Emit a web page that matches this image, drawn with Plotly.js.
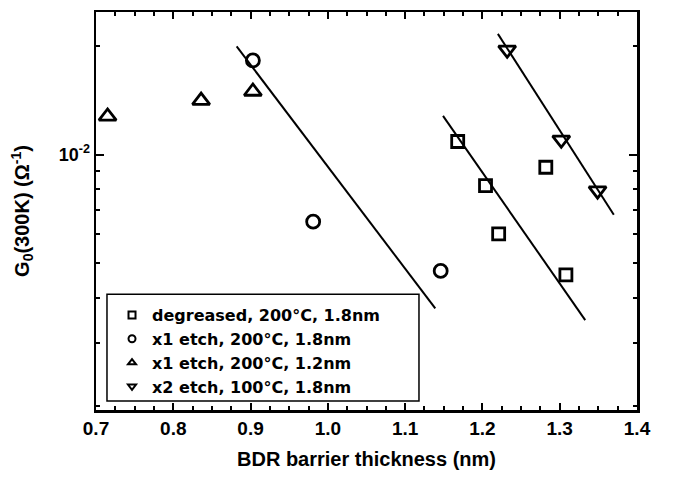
<!DOCTYPE html>
<html>
<head>
<meta charset="utf-8">
<script src="https://cdn.plot.ly/plotly-3.0.1.min.js"></script>
<style>
html,body{margin:0;padding:0;background:#fff;}
#chart{width:673px;height:477px;}
</style>
</head>
<body>
<div id="chart"></div>
<script>
// Series names
const seriesNames = [
  'degreased, 200°C, 1.8nm',
  'x1 etch, 200°C, 1.8nm',
  'x1 etch, 200°C, 1.2nm',
  'x2 etch, 100°C, 1.8nm'
];
// degreased, 200°C, 1.8nm (squares)
const degreasedX = [1.168, 1.204, 1.221, 1.282, 1.308];
const degreasedY = [0.01087, 0.00820, 0.00602, 0.00922, 0.00463];
// x1 etch, 200°C, 1.8nm (circles)
const etch1X = [0.903, 0.981, 1.146];
const etch1Y = [0.01827, 0.00651, 0.00475];
// x1 etch, 200°C, 1.2nm (triangles up)
const etch1thinX = [0.715, 0.836, 0.903];
const etch1thinY = [0.01276, 0.01413, 0.01497];
// x2 etch, 100°C, 1.8nm (triangles down)
const etch2X = [1.232, 1.302, 1.349];
const etch2Y = [0.01955, 0.01099, 0.00794];
// fitted lines (end points)
const fit1X = [0.882, 1.139];
const fit1Y = [0.01998, 0.003736];
const fit2X = [1.149, 1.333];
const fit2Y = [0.01281, 0.003467];
const fit3X = [1.220, 1.370];
const fit3Y = [0.02165, 0.00680];
// axis ticks
const xTickVals = [0.7, 0.8, 0.9, 1.0, 1.1, 1.2, 1.3, 1.4];
const xTickText = ['0.7', '0.8', '0.9', '1.0', '1.1', '1.2', '1.3', '1.4'];
const yTickVals = [0.01];
const yTickText = ['10<sup>-2</sup>'];
const yMinorVals = [0.002, 0.003, 0.004, 0.005, 0.006, 0.007, 0.008, 0.009, 0.02];

const symbols = ['square-open', 'circle-open', 'triangle-up-open', 'triangle-down-open'];
const sizes = [12, 13, 15, 15];
const xs = [degreasedX, etch1X, etch1thinX, etch2X];
const ys = [degreasedY, etch1Y, etch1thinY, etch2Y];

const traces = [];
[[fit1X, fit1Y], [fit2X, fit2Y], [fit3X, fit3Y]].forEach(f => {
  traces.push({x: f[0], y: f[1], mode: 'lines', line: {color: '#000', width: 2}, showlegend: false, hoverinfo: 'skip'});
});
for (let i = 0; i < 4; i++) {
  traces.push({
    x: xs[i], y: ys[i], mode: 'markers', name: seriesNames[i], showlegend: false,
    marker: {symbol: symbols[i], size: sizes[i], color: '#000', line: {color: '#000', width: 2.8}}
  });
}
// legend-only entries with small symbols
for (let i = 0; i < 4; i++) {
  traces.push({
    x: [null], y: [null], mode: 'markers', name: seriesNames[i], showlegend: true,
    marker: {symbol: symbols[i], size: 7, color: '#000', line: {color: '#000', width: 2}}
  });
}

const fontFam = '"Liberation Sans", Arial, sans-serif';
const legFam = '"DejaVu Sans", "Liberation Sans", sans-serif';
const layout = {
  width: 673, height: 477,
  margin: {l: 96, r: 36, t: 12, b: 67},
  paper_bgcolor: '#fff', plot_bgcolor: '#fff',
  font: {family: fontFam, color: '#000', size: 18, weight: 'bold'},
  showlegend: true,
  legend: {
    x: 0.0296, y: 0.015, xanchor: 'left', yanchor: 'bottom',
    borderwidth: 0, bgcolor: 'rgba(0,0,0,0)',
    font: {family: legFam, size: 16, color: '#000', weight: 'bold'},
    tracegroupgap: 0, itemwidth: 30
  },
  // legend frame
  shapes: [{
    type: 'rect', xref: 'paper', yref: 'paper', layer: 'above',
    x0: 0.0203, x1: 0.597, y0: 0.0226, y1: 0.291,
    line: {color: '#000', width: 1.5}, fillcolor: '#fff'
  }],
  xaxis: {
    range: [0.7, 1.4], tickmode: 'array', tickvals: xTickVals, ticktext: xTickText,
    ticks: 'inside', ticklen: 7, tickwidth: 2, tickcolor: '#000',
    showline: true, linecolor: '#000', linewidth: 2.5, mirror: 'ticks',
    showgrid: false, zeroline: false,
    tickfont: {family: fontFam, size: 19, weight: 'bold'},
    minor: {dtick: 0.025, ticks: 'inside', ticklen: 4, tickwidth: 2, tickcolor: '#000', showgrid: false},
    title: {text: 'BDR barrier thickness (nm)', font: {family: fontFam, size: 20, weight: 'bold'}, standoff: 14}
  },
  yaxis: {
    type: 'log', range: [Math.log10(0.00195), Math.log10(0.0249)],
    tickmode: 'array', tickvals: yTickVals, ticktext: yTickText,
    ticks: 'inside', ticklen: 8, tickwidth: 2, tickcolor: '#000',
    showline: true, linecolor: '#000', linewidth: 2.5, mirror: 'ticks',
    showgrid: false, zeroline: false,
    tickfont: {family: fontFam, size: 18, weight: 'bold'},
    minor: {tickmode: 'array', tickvals: yMinorVals, ticks: 'inside', ticklen: 4, tickwidth: 2, tickcolor: '#000', showgrid: false},
    title: {text: 'G<sub>0</sub>(300K) (Ω<sup>-1</sup>)', font: {family: fontFam, size: 20, weight: 'bold'}, standoff: 24}
  }
};

Plotly.newPlot('chart', traces, layout, {staticPlot: true, displayModeBar: false});
</script>
</body>
</html>
